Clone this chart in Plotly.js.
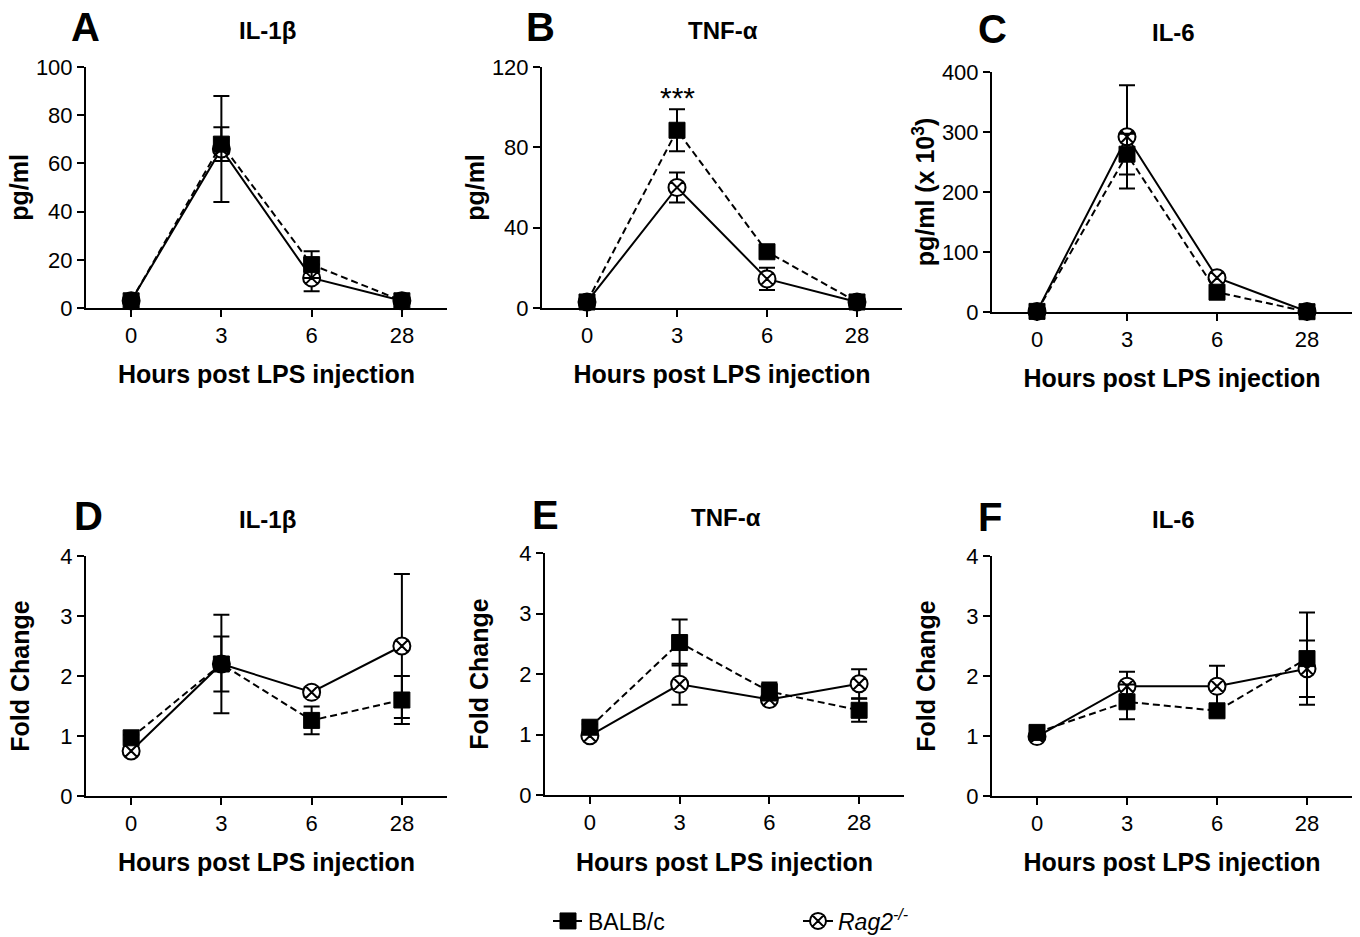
<!DOCTYPE html>
<html>
<head>
<meta charset="utf-8">
<script src="https://cdn.plot.ly/plotly-3.0.1.min.js"></script>
<style>html,body{margin:0;padding:0;background:#fff;}#chart{width:1360px;height:937px;}</style>
</head>
<body>
<div id="chart"></div>
<script>
// ---- data ----
var hours = ['0', '3', '6', '28'];
var seriesNames = ['BALB/c', '<i>Rag2</i><sup><i>-/-</i></sup>'];

// A: IL-1β (pg/ml)
var il1bBalb = [3, 68, 18, 3];
var il1bBalbErr = [1, 7, 5.5, 1];
var il1bRag = [3, 66, 12.5, 3];
var il1bRagErr = [1, 22, 5.5, 1];

// B: TNF-α (pg/ml)
var tnfBalb = [3, 88.5, 28, 3];
var tnfBalbErr = [1, 10.5, 2, 1];
var tnfRag = [3, 60, 14.5, 3];
var tnfRagErr = [1, 7.5, 5.5, 1];

// C: IL-6 (pg/ml x 10^3)
var il6Balb = [1, 263, 33, 0.5];
var il6BalbErr = [1, 34, 5, 0.5];
var il6Rag = [1, 292, 57, 1];
var il6RagErr = [1, 86, 6, 1];

// D: IL-1β fold change
var fcIl1bBalb = [0.97, 2.2, 1.26, 1.6];
var fcIl1bBalbErr = [0.05, 0.46, 0.23, 0.4];
var fcIl1bRag = [0.75, 2.2, 1.73, 2.5];
var fcIl1bRagErr = [0.05, 0.82, 0.08, 1.2];

// E: TNF-α fold change
var fcTnfBalb = [1.12, 2.52, 1.71, 1.4];
var fcTnfBalbErr = [0.05, 0.38, 0.15, 0.19];
var fcTnfRag = [0.98, 1.83, 1.58, 1.84];
var fcTnfRagErr = [0.05, 0.34, 0.05, 0.24];

// F: IL-6 fold change
var fcIl6Balb = [1.06, 1.57, 1.42, 2.29];
var fcIl6BalbErr = [0.05, 0.29, 0.08, 0.77];
var fcIl6Rag = [0.99, 1.83, 1.83, 2.12];
var fcIl6RagErr = [0.05, 0.24, 0.34, 0.47];

var panelLetters = ['A', 'B', 'C', 'D', 'E', 'F'];
var panelTitles = ['IL-1β', 'TNF-α', 'IL-6', 'IL-1β', 'TNF-α', 'IL-6'];
var yTitles = ['pg/ml', 'pg/ml', 'pg/ml (x 10<sup>3</sup>)', 'Fold Change', 'Fold Change', 'Fold Change'];
var xTitle = 'Hours post LPS injection';
var yRanges = [[0, 100], [0, 120], [0, 400], [0, 4], [0, 4], [0, 4]];
var yDticks = [20, 40, 100, 1, 1, 1];
var sigLabel = '***';

// ---- layout geometry (pixels) ----
var W = 1360, H = 937;
var FONT = 'Liberation Sans, Arial, Helvetica, sans-serif';
var geo = [
  {x0: 86, x1: 447, yb: 308, yt: 67, stand: 0, xs: 18},
  {x0: 542, x1: 902, yb: 308, yt: 67, stand: 0, xs: 18},
  {x0: 992, x1: 1352, yb: 312, yt: 72, stand: 0, xs: 18},
  {x0: 86, x1: 447, yb: 796, yt: 556, stand: 24, xs: 18},
  {x0: 545, x1: 904, yb: 795, yt: 553, stand: 24, xs: 19},
  {x0: 992, x1: 1352, yb: 796, yt: 556, stand: 24, xs: 18}
];
var letterPos = [[85, 27], [540, 27], [992, 29], [88, 516], [545, 515], [990, 517]];
var titlePos = [[267, 30], [723, 30], [1173, 32], [267, 519], [726, 517], [1173, 519]];

var data = [
  [il1bBalb, il1bBalbErr, il1bRag, il1bRagErr],
  [tnfBalb, tnfBalbErr, tnfRag, tnfRagErr],
  [il6Balb, il6BalbErr, il6Rag, il6RagErr],
  [fcIl1bBalb, fcIl1bBalbErr, fcIl1bRag, fcIl1bRagErr],
  [fcTnfBalb, fcTnfBalbErr, fcTnfRag, fcTnfRagErr],
  [fcIl6Balb, fcIl6BalbErr, fcIl6Rag, fcIl6RagErr]
];

var traces = [];
var layout = {
  width: W, height: H,
  margin: {l: 0, r: 0, t: 0, b: 0, autoexpand: false},
  paper_bgcolor: '#fff', plot_bgcolor: 'rgba(0,0,0,0)',
  font: {family: FONT, color: '#000', size: 22},
  showlegend: true,
  legend: {x: 548 / W, y: 1 - 921 / H, xanchor: 'left', yanchor: 'middle', bgcolor: 'rgba(0,0,0,0)',
           font: {family: FONT, size: 23}, borderwidth: 0},
  legend2: {x: 798 / W, y: 1 - 921 / H, xanchor: 'left', yanchor: 'middle', bgcolor: 'rgba(0,0,0,0)',
            font: {family: FONT, size: 23}, borderwidth: 0},
  annotations: []
};

for (var i = 0; i < 6; i++) {
  var s = i === 0 ? '' : String(i + 1);
  var g = geo[i];
  var d = data[i];
  // Rag2 (drawn first, under BALB/c)
  traces.push({
    x: hours, y: d[2], xaxis: 'x' + s, yaxis: 'y' + s,
    type: 'scatter', mode: 'lines+markers', name: seriesNames[1],
    legend: 'legend2', showlegend: i === 0, cliponaxis: false,
    line: {color: '#000', width: 2},
    marker: {symbol: 'circle-x', size: 17, color: '#fff', line: {color: '#000', width: 2}},
    error_y: {type: 'data', array: d[3], visible: true, color: '#000', thickness: 2, width: 8}
  });
  // BALB/c
  traces.push({
    x: hours, y: d[0], xaxis: 'x' + s, yaxis: 'y' + s,
    type: 'scatter', mode: 'lines+markers', name: seriesNames[0],
    legend: 'legend', showlegend: i === 0, cliponaxis: false,
    line: {color: '#000', width: 2, dash: '7px,4px'},
    marker: {symbol: 'square', size: 16, color: '#000', line: {color: '#000', width: 1}},
    error_y: {type: 'data', array: d[1], visible: true, color: '#000', thickness: 2, width: 8}
  });

  layout['xaxis' + s] = {
    domain: [g.x0 / W, g.x1 / W], anchor: 'y' + s,
    type: 'category', categoryorder: 'array', categoryarray: hours,
    range: [-0.5, 3.5], fixedrange: true,
    showline: true, linecolor: '#000', linewidth: 2,
    ticks: 'outside', ticklen: 7, tickwidth: 2, tickcolor: '#000',
    showgrid: false, zeroline: false,
    tickfont: {family: FONT, size: 22, color: '#000'},
    title: {text: '<b>' + xTitle + '</b>', font: {family: FONT, size: 25, color: '#000'}, standoff: g.xs}
  };
  layout['yaxis' + s] = {
    domain: [1 - g.yb / H, 1 - g.yt / H], anchor: 'x' + s,
    range: yRanges[i], dtick: yDticks[i], tick0: 0, fixedrange: true,
    showline: true, linecolor: '#000', linewidth: 2,
    ticks: 'outside', ticklen: 7, tickwidth: 2, tickcolor: '#000',
    showgrid: false, zeroline: false,
    tickfont: {family: FONT, size: 22, color: '#000'},
    title: {text: '<b>' + yTitles[i] + '</b>', font: {family: FONT, size: 25, color: '#000'}, standoff: g.stand}
  };

  layout.annotations.push({
    xref: 'paper', yref: 'paper', x: letterPos[i][0] / W, y: 1 - letterPos[i][1] / H,
    xanchor: 'center', yanchor: 'middle', showarrow: false,
    text: '<b>' + panelLetters[i] + '</b>', font: {family: FONT, size: 40, color: '#000'}
  });
  layout.annotations.push({
    xref: 'paper', yref: 'paper', x: titlePos[i][0] / W, y: 1 - titlePos[i][1] / H,
    xanchor: 'center', yanchor: 'middle', showarrow: false,
    text: '<b>' + panelTitles[i] + '</b>', font: {family: FONT, size: 24, color: '#000'}
  });
}

// significance marker above TNF-α 3 h
layout.annotations.push({
  xref: 'x2', yref: 'y2', x: 1, y: tnfBalb[1] + tnfBalbErr[1],
  xanchor: 'center', yanchor: 'bottom', yshift: -7, showarrow: false,
  text: sigLabel, font: {family: FONT, size: 30, color: '#000'}
});

Plotly.newPlot('chart', traces, layout, {staticPlot: true});
</script>
</body>
</html>
